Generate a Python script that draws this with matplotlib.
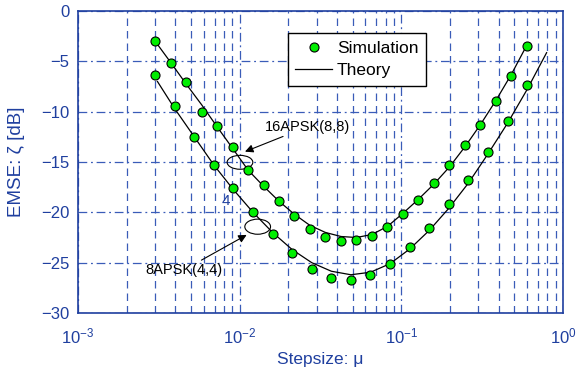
# -*- coding: utf-8 -*-

import matplotlib.pyplot as plt
from matplotlib.patches import Ellipse
from matplotlib.ticker import LogLocator, FixedLocator

plt.rcParams['font.family'] = ['Liberation Sans', 'DejaVu Sans']
plt.rcParams['mathtext.fontset'] = 'custom'
plt.rcParams['mathtext.rm'] = 'Liberation Sans'

blue = '#1f3f9f'
gridBlue = '#3a5cb8'

# 16APSK(8,8) simulation
muSim16 = [0.003, 0.00374, 0.00466, 0.00581, 0.00725, 0.00904, 0.01127, 0.01405,
           0.01752, 0.02184, 0.02723, 0.03396, 0.04234, 0.05278, 0.06581, 0.08205,
           0.1023, 0.1276, 0.1590, 0.1983, 0.2472, 0.3082, 0.3843, 0.4792, 0.5974]
emseSim16 = [-2.98, -5.13, -7.08, -10.03, -11.39, -13.54, -15.8, -17.28,
             -18.87, -20.32, -21.65, -22.41, -22.81, -22.77, -22.34, -21.48,
             -20.19, -18.77, -17.11, -15.25, -13.31, -11.29, -8.94, -6.42, -3.48]
emseTh16 = [-3.0, -5.1, -7.24, -9.3, -11.5, -13.64, -15.8, -17.4,
            -18.9, -20.2, -21.3, -22.0, -22.4, -22.5, -22.2, -21.4,
            -20.1, -18.7, -17.2, -15.5, -13.5, -11.3, -8.9, -6.3, -3.4]

# 8APSK(4,4) simulation
muSim8 = [0.003, 0.003965, 0.00524, 0.006925, 0.009152, 0.012096, 0.015986, 0.021127,
          0.027921, 0.036901, 0.048769, 0.064453, 0.085181, 0.11258, 0.14878, 0.19663,
          0.25987, 0.34344, 0.45389, 0.59986]
emseSim8 = [-6.36, -9.43, -12.48, -15.29, -17.61, -19.93, -22.14, -24.0,
            -25.62, -26.48, -26.68, -26.22, -25.16, -23.47, -21.52, -19.2,
            -16.78, -14.0, -10.89, -7.35]
muTh8 = [0.0031, 0.003965, 0.00524, 0.006925, 0.009152, 0.012096, 0.015986, 0.021127,
         0.027921, 0.036901, 0.048769, 0.064453, 0.085181, 0.11258, 0.14878, 0.19663,
         0.25987, 0.34344, 0.45389, 0.59986, 0.792]
emseTh8 = [-7.0, -9.7, -12.5, -15.3, -17.75, -20.0, -22.0, -23.7,
           -25.0, -25.85, -26.2, -25.95, -25.1, -23.65, -21.8, -19.6,
           -17.1, -14.2, -11.15, -7.8, -4.14]

fig = plt.figure(figsize=(5.76, 3.75), dpi=100)
ax = fig.add_axes([0.1354, 0.1653, 0.9774 - 0.1354, 0.9707 - 0.1653])

ax.set_xscale('log')
ax.set_xlim(1e-3, 1)
ax.set_ylim(-30, 0)
ax.yaxis.set_major_locator(FixedLocator([-30, -25, -20, -15, -10, -5, 0]))
ax.xaxis.set_major_locator(LogLocator(base=10, numticks=10))
ax.xaxis.set_minor_locator(LogLocator(base=10, subs=range(2, 10), numticks=20))

ax.grid(which='major', color=gridBlue, lw=0.9, ls=(0, (7, 3, 1.5, 3)))
ax.grid(which='minor', axis='x', color=gridBlue, lw=0.9, ls=(0, (6, 4)))
ax.set_axisbelow(True)

for s in ax.spines.values():
    s.set_color(blue)
    s.set_linewidth(1.2)
ax.tick_params(which='both', length=0, colors=blue, labelsize=12)
ax.tick_params(axis='x', pad=10)
ax.tick_params(axis='y', pad=6)

ax.plot(muSim16, emseTh16, 'k-', lw=0.9)
ax.plot(muTh8, emseTh8, 'k-', lw=0.9)
ax.plot(muSim16, emseSim16, 'o', color='#00ee00', mec='k', mew=0.8, ms=6.5,
        label='Simulation')
ax.plot(muSim8, emseSim8, 'o', color='#00ee00', mec='k', mew=0.8, ms=6.5)
ax.plot([], [], 'k-', lw=0.9, label='Theory')

ax.set_xlabel('Stepsize: μ', color=blue, fontsize=12.5, labelpad=4)
ax.set_ylabel('EMSE: ζ [dB]', color=blue, fontsize=13.5, labelpad=12)

leg = ax.legend(loc='upper left', bbox_to_anchor=(0.432, 0.928), fontsize=12.5,
                frameon=True, fancybox=False, framealpha=1, edgecolor='k',
                handlelength=2.1, borderpad=0.45, labelspacing=0.4,
                handletextpad=0.3, borderaxespad=0)
leg.get_frame().set_linewidth(1.0)

ax.add_patch(Ellipse((0.334, 0.499), 0.053, 0.046, transform=ax.transAxes,
                     fill=False, ec='k', lw=0.8))
ax.add_patch(Ellipse((0.3705, 0.2858), 0.053, 0.05, transform=ax.transAxes,
                     fill=False, ec='k', lw=0.8))

ax.annotate('16APSK(8,8)', xy=(0.01079, -13.97), xytext=(0.01434, -11.49),
            ha='left', va='center', fontsize=10.5,
            arrowprops=dict(arrowstyle='-|>', color='k', lw=0.8,
                            shrinkA=0, shrinkB=0, mutation_scale=12))
ax.annotate('8APSK(4,4)', xy=(0.01105, -22.24), xytext=(0.00452, -25.72),
            ha='center', va='center', fontsize=10.5,
            arrowprops=dict(arrowstyle='-|>', color='k', lw=0.8,
                            shrinkA=0, shrinkB=0, mutation_scale=12))
ax.text(0.0082, -18.9, '4', color=blue, fontsize=11, ha='center', va='center')

plt.savefig('out.png', dpi=100)
